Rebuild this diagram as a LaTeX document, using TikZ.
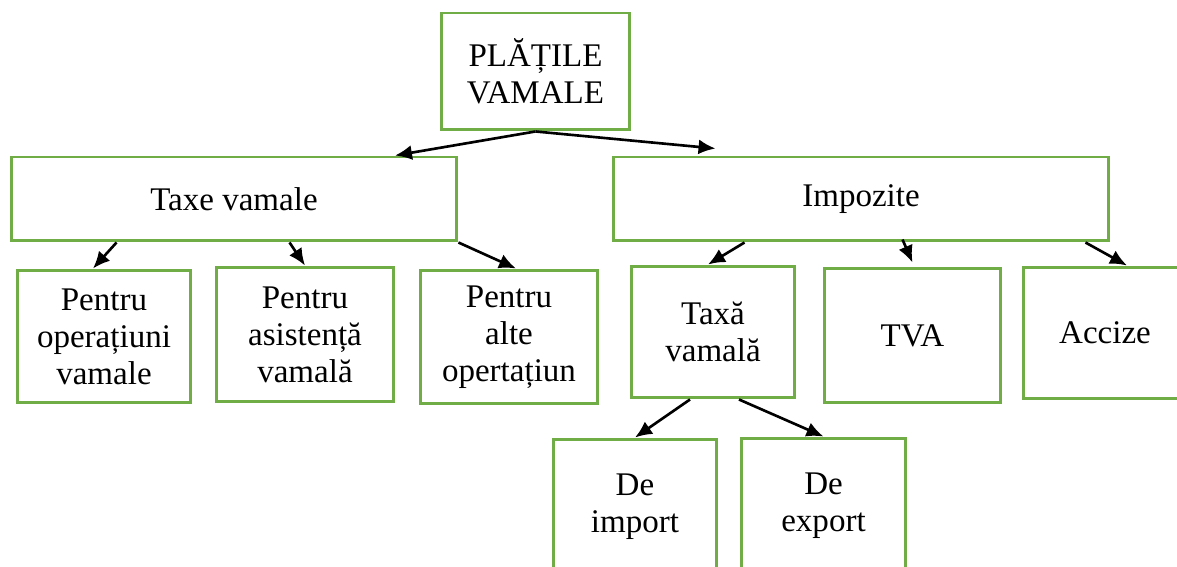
\documentclass[tikz,border=0pt]{standalone}
\usepackage{fontspec}
\setmainfont{Liberation Serif}
\usetikzlibrary{arrows.meta}
\definecolor{boxgreen}{HTML}{70AD47}

\begin{document}
\begin{tikzpicture}
        [
        x=0.02cm, y=-0.02cm,
        box/.style={draw=boxgreen,line width=1.7pt,align=center,inner sep=0pt,
            font=\fontsize{18.8}{21}\selectfont},
        edge/.style={-{Latex[length=0.34cm,width=0.3cm]},line width=1.5pt}
        ]
    \useasboundingbox (0,0) rectangle (1177,567);
    \node[box,minimum width=3.78cm,minimum height=2.34cm] (top) at (535.5,71.5) {PLĂȚILE\\VAMALE};
    \node[box,minimum width=8.92cm,minimum height=1.68cm] (taxe) at (234,199) {Taxe vamale};
    \node[box,minimum width=9.92cm,minimum height=1.68cm] (imp) at (861,199) {Impozite};
    \node[box,minimum width=3.48cm,minimum height=2.66cm] (oper) at (104,336.5) {Pentru\\operațiuni\\vamale};
    \node[box,minimum width=3.56cm,minimum height=2.70cm] (asist) at (305,334.5) {Pentru\\asistență\\vamală};
    \node[box,minimum width=3.56cm,minimum height=2.68cm] (alte) at (509,337) {Pentru\\alte\\opertațiun};
    \node[box,minimum width=3.28cm,minimum height=2.64cm] (taxa) at (713,332) {Taxă\\vamală};
    \node[box,minimum width=3.54cm,minimum height=2.70cm] (tva) at (912.5,335.5) {TVA};
    \node[box,minimum width=3.28cm,minimum height=2.64cm] (acc) at (1105,333) {Accize};
    \node[box,minimum width=3.28cm,minimum height=2.70cm] (import) at (635,506.5) {De\\import};
    \node[box,minimum width=3.30cm,minimum height=2.70cm] (export) at (823.5,505.5) {De\\export};
    % first level
    \draw[edge] (top.south) -- ([xshift=3.22cm]taxe.north);
    \draw[edge] (top.south) -- ([xshift=2.08cm,yshift=0.14cm]imp.north west);
    % taxe vamale
    \draw[edge] ([xshift=2.14cm]taxe.south west) -- ([xshift=-0.22cm]oper.north);
    \draw[edge] ([xshift=5.6cm]taxe.south west) -- (asist.north);
    \draw[edge] (taxe.south east) -- ([xshift=0.14cm]alte.north);
    % impozite
    \draw[edge] ([xshift=2.66cm]imp.south west) -- ([xshift=-0.1cm]taxa.north);
    \draw[edge] ([xshift=5.82cm,yshift=0.06cm]imp.south west) -- ([yshift=0.08cm]tva.north);
    \draw[edge] ([xshift=9.48cm]imp.south west) -- ([xshift=0.44cm]acc.north);
    % taxa vamala
    \draw[edge] ([xshift=-0.46cm]taxa.south) -- (import.north);
    \draw[edge] ([xshift=0.52cm]taxa.south) -- (export.north);
\end{tikzpicture}
\end{document}
